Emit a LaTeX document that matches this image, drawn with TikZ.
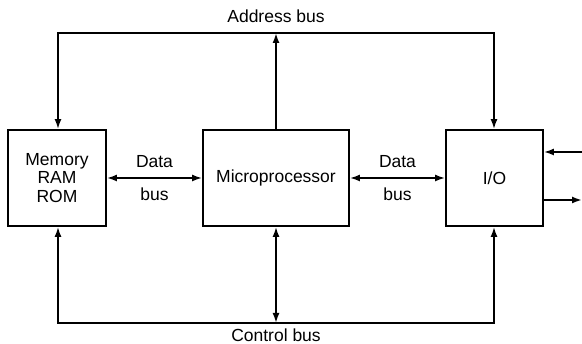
\documentclass[tikz,border=0pt]{standalone}
\usepackage{fontspec}
\setmainfont{Liberation Sans}
\usetikzlibrary{arrows.meta}
\begin{document}
\begin{tikzpicture}[x=1pt,y=-1pt,
  blk/.style={draw,line width=1.8pt,inner sep=0pt},
  bus/.style={line width=1.8pt},
  arr/.style={bus,-{Latex[length=10pt,width=7pt]}},
  darr/.style={bus,{Latex[length=10pt,width=7pt]}-{Latex[length=10pt,width=7pt]}},
  lbl/.style={font=\fontsize{17.5}{18.5}\selectfont,inner sep=0pt,align=center}]
\useasboundingbox (0,0) rectangle (582,344);
\node[blk,minimum width=98pt,minimum height=96pt] (mem) at (57,178) {};
\node[lbl] at (57,178) {Memory\\RAM\\ROM};
\node[blk,minimum width=146pt,minimum height=96pt] (mp) at (276,178) {};
\node[lbl] at (276,178) {Microprocessor};
\node[blk,minimum width=97pt,minimum height=96pt] (io) at (494.5,178) {};
\node[lbl] at (494.5,178) {I/O};
% address bus
\coordinate (aL) at (58,33);
\coordinate (aR) at (494,33);
\coordinate (aM) at (276,33);
\draw[arr] (aM) -- (aL) -- (mem.north -| aL);
\draw[arr] (aM) -- (aR) -- (io.north -| aR);
\draw[arr] (mp.north) -- (aM);
\node[lbl] (al) at (276,16) {Address bus};
% control bus
\coordinate (cL) at (58,323);
\coordinate (cR) at (494,323);
\coordinate (cM) at (276,323);
\draw[arr] (cM) -- (cL) -- (mem.south -| cL);
\draw[arr] (cM) -- (cR) -- (io.south -| cR);
\draw[darr] (mp.south) -- (cM);
\node[lbl] (cl) at (276,335.5) {Control bus};
% data buses
\draw[darr] (mem.east) -- (mp.west);
\node[lbl] (d1) at (154.5,162) {Data};
\node[lbl] (b1) at (154.5,194) {bus};
\draw[darr] (mp.east) -- (io.west);
\node[lbl] (d2) at (397.5,162) {Data};
\node[lbl] (b2) at (397.5,194) {bus};
% external I/O
\coordinate (inS) at (582,152);
\coordinate (outE) at (582,200);
\draw[arr] (inS) -- (io.east |- inS);
\draw[arr] (io.east |- outE) -- (outE);
\end{tikzpicture}
\end{document}
